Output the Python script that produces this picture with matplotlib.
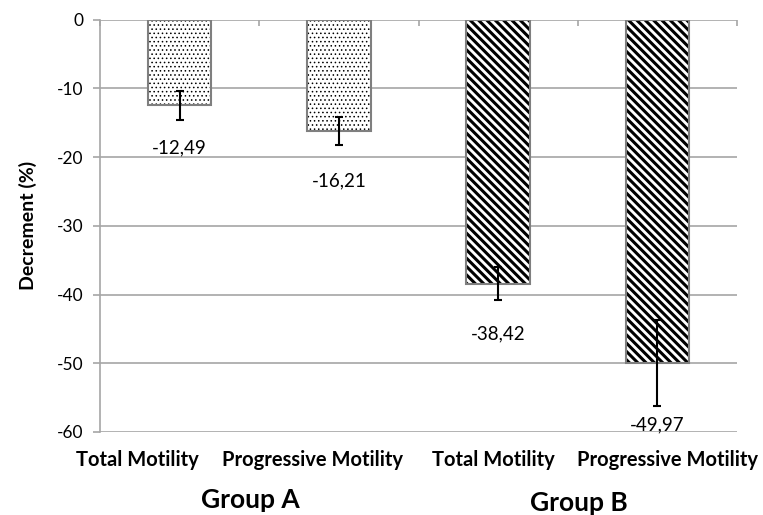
import numpy as np
import matplotlib
matplotlib.use('Agg')
import matplotlib.pyplot as plt
import matplotlib.transforms as mtransforms

plt.rcParams['font.family'] = ['Lato', 'DejaVu Sans']
plt.rcParams['axes.unicode_minus'] = False

# data
categories = ['Total Motility', 'Progressive Motility', 'Total Motility', 'Progressive Motility']
groups = ['Group A', 'Group B']
values = [-12.49, -16.21, -38.42, -49.97]
errors = [2.1, 2.0, 2.4, 6.2]
labels = ['-12,49', '-16,21', '-38,42', '-49,97']

fig = plt.figure(figsize=(7.63, 5.15), dpi=100)
ax = fig.add_axes([100/763, 1-432/515, (737-100)/763, (432-19.5)/515])

x = np.arange(len(values))
# group A: dotted fill, group B: diagonal stripes
plt.rcParams['hatch.linewidth'] = 0.6
ax.bar(x[:2], values[:2], width=0.4, color='white', edgecolor='black', hatch='....',
       linewidth=0, zorder=2)
plt.rcParams['hatch.linewidth'] = 2.2
ax.bar(x[2:], values[2:], width=0.4, color='white', edgecolor='black', hatch='\\\\\\\\',
       linewidth=0, zorder=2)
ax.bar(x, values, width=0.4, fill=False, edgecolor='#7f7f7f', linewidth=1.5, zorder=3)
ax.errorbar(x, values, yerr=errors, fmt='none', ecolor='black', elinewidth=1.5,
            capsize=3, capthick=1.5, zorder=4)

# data labels below the error bars
label_dy = [-20, -26, -24, -14]
for i in range(len(values)):
    ax.annotate(labels[i], (x[i], values[i] - errors[i]), xytext=(0, label_dy[i]),
                textcoords='offset points', ha='center', va='center', fontsize=13.5)

ax.set_xlim(-0.5, 3.5)
ax.set_ylim(-60, 0)
ax.set_yticks(np.arange(-60, 1, 10))
ax.yaxis.grid(True, color='#a6a6a6', linewidth=1.2, zorder=0)
ax.set_axisbelow(True)
for s in ['top', 'right', 'bottom']:
    ax.spines[s].set_visible(False)
ax.spines['left'].set_color('#a6a6a6')
ax.spines['left'].set_linewidth(1.2)
ax.tick_params(axis='y', colors='#a6a6a6', length=5, width=1.2, labelcolor='black',
               labelsize=12.5, pad=7)

ax.set_xticks(x)
ax.set_xticklabels(categories, fontsize=14.5, fontweight='bold')
ax.tick_params(axis='x', which='major', length=0, pad=13)
ax.set_xticks(np.arange(-0.5, 3.6, 1), minor=True)
ax.tick_params(axis='x', which='minor', bottom=False, top=True, direction='in',
               length=4, width=1.2, color='#a6a6a6')

# the category labels in the original sit a bit off their bars
shift_px = [-42, -26, -5, 10]
for lab, dx in zip(ax.get_xticklabels(), shift_px):
    lab.set_transform(lab.get_transform() + mtransforms.ScaledTranslation(dx/100, 0, fig.dpi_scale_trans))

ax.set_ylabel('Decrement (%)', fontsize=14, fontweight='bold', labelpad=14)

fig.text(250/763, 1-500/515, groups[0], ha='center', va='center', fontsize=19, fontweight='bold')
fig.text(579/763, 1-503/515, groups[1], ha='center', va='center', fontsize=19, fontweight='bold')

fig.savefig('out.png', dpi=100)
